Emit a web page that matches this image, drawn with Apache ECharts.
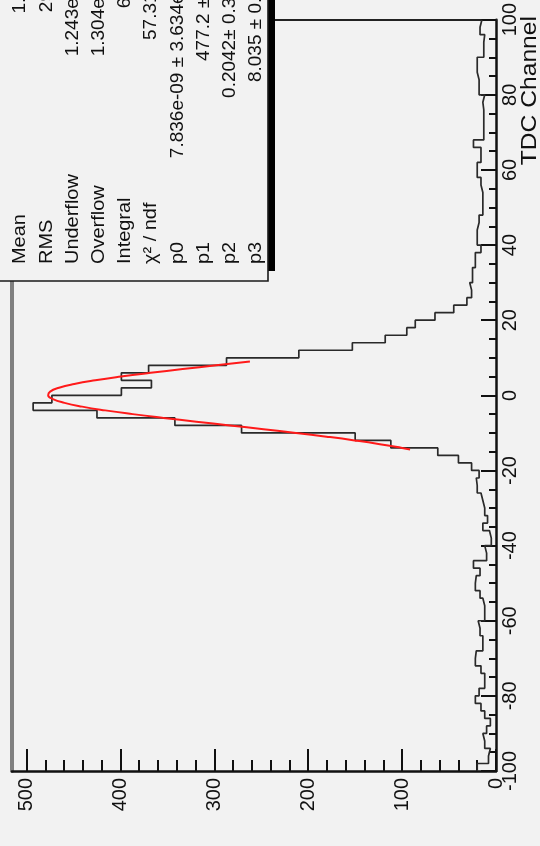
<!DOCTYPE html>
<html><head><meta charset="utf-8">
<script src="https://cdn.jsdelivr.net/npm/echarts@6/dist/echarts.min.js"></script>
<style>html,body{margin:0;padding:0;background:#f2f2f2;}#c{width:540px;height:846px;}</style>
</head><body><div id="c"></div>
<script>
// TDC channel bin lower edges (bin width 2)
const binLowEdges = [-100,-98,-96,-94,-92,-90,-88,-86,-84,-82,
  -80,-78,-76,-74,-72,-70,-68,-66,-64,-62,
  -60,-58,-56,-54,-52,-50,-48,-46,-44,-42,
  -40,-38,-36,-34,-32,-30,-28,-26,-24,-22,
  -20,-18,-16,-14,-12,-10,-8,-6,-4,-2,
  0,2,4,6,8,10,12,14,16,18,
  20,22,24,26,28,30,32,34,36,38,
  40,42,44,46,48,50,52,54,56,58,
  60,62,64,66,68,70,72,74,76,78,
  80,82,84,86,88,90,92,94,96,98];
const binWidth = 2;
// histogram contents (entries per bin)
const binCounts = [20,8,6,12,14,10,6,12,16,22,
  18,12,12,16,22,21,14,14,17,19,
  12,12,14,17,22,21,17,24,10,12,
  5,7,14,9,12,14,16,20,21,18,
  26,40,62,112,150,271,342,425,493,473,
  399,367,399,370,287,210,153,118,95,86,
  65,45,31,26,28,25,25,22,22,16,
  20,20,18,18,14,14,14,16,16,20,
  20,16,16,24,13,13,13,13,14,12,
  18,18,20,20,20,13,13,12,17,15];
// fitted curve
const fitChannels = [-14.4,-14,-13,-12,-11,-10,-9,-8,-7,-6,-5,-4,-3,-2,-1,0,1,2,3,4,5,6,7,8,9];
const fitValues = [91.5,100.0,123.7,150.6,180.5,213.1,247.6,283.4,319.2,354.2,386.9,416.2,440.8,459.6,471.9,477.0,474.9,465.4,449.2,426.8,399.4,367.9,333.7,298.1,262.1];
// axis ticks
const countTicks = [0,100,200,300,400,500];
const channelTicks = [-100,-80,-60,-40,-20,0,20,40,60,80,100];
// stats box
const statLabels = ['Entries','Mean','RMS','Underflow','Overflow','Integral','χ² / ndf','p0','p1','p2','p3'];
const statValues = ['6305','1.024','29.11','1.243e+04','1.304e+04','6305','57.31 / 8','7.836e-09 ± 3.634e-06','477.2 ± 6.9','0.2042± 0.3126','8.035 ± 0.163'];

const histPts = [];
for (let i = 0; i < binCounts.length; i++) {
  histPts.push([binCounts[i], binLowEdges[i]]);
  histPts.push([binCounts[i], binLowEdges[i] + binWidth]);
}
const fitPts = fitChannels.map((c, i) => [fitValues[i], c]);

const FONT = '"Liberation Sans", Arial, Helvetica, sans-serif';
const chart = echarts.init(document.getElementById('c'), null, {renderer: 'canvas'});

const rowX0 = -6, rowDx = 26.2, statFont = 19;
const graphics = [
  {type: 'rect', z: 100, shape: {x: -10, y: -30, width: 285, height: 301}, style: {fill: '#000'}},
  {type: 'rect', z: 101, shape: {x: -10, y: -10, width: 278, height: 291}, style: {fill: '#f2f2f2', stroke: '#1a1a1a', lineWidth: 1.6}}
];
statLabels.forEach((t, i) => {
  const cx = rowX0 + rowDx * i;
  graphics.push({type: 'text', z: 102, x: cx, y: 264, rotation: Math.PI / 2, scaleX: 1.05,
    style: {text: t, fontSize: statFont, fontFamily: FONT, fill: '#111', align: 'left', verticalAlign: 'middle'}});
  graphics.push({type: 'text', z: 102, x: cx, y: -34, rotation: Math.PI / 2, scaleX: 1.0,
    style: {text: statValues[i], fontSize: statFont, fontFamily: FONT, fill: '#111', align: 'right', verticalAlign: 'middle'}});
});
graphics.push({type: 'text', z: 102, x: 530, y: 16, rotation: Math.PI / 2, scaleX: 1.12,
  style: {text: 'TDC Channel', fontSize: 22, fontFamily: FONT, fill: '#111', align: 'right', verticalAlign: 'middle'}});

const lineCol = '#111';
chart.setOption({
  backgroundColor: '#f2f2f2',
  animation: false,
  grid: {left: 12, right: 44, top: 16, bottom: 75},
  xAxis: [
    {type: 'value', inverse: true, min: 0, max: 515.5, interval: 100, position: 'bottom',
      axisLine: {show: true, onZero: false, lineStyle: {color: lineCol, width: 2.5}},
      axisTick: {show: true, inside: true, length: 22, customValues: countTicks, lineStyle: {color: lineCol, width: 2}},
      minorTick: {show: true, splitNumber: 5, length: 11, lineStyle: {color: lineCol, width: 2}},
      axisLabel: {show: true, customValues: countTicks, rotate: 90, margin: 7, fontSize: 20, fontFamily: FONT, color: '#111'},
      splitLine: {show: false}, minorSplitLine: {show: false}},
    {type: 'value', inverse: true, min: 0, max: 515.5, position: 'top',
      axisLine: {show: true, onZero: false, lineStyle: {color: '#222', width: 2.2}},
      axisTick: {show: false}, axisLabel: {show: false}, splitLine: {show: false}}
  ],
  yAxis: [
    {type: 'value', min: -100, max: 100, interval: 20, position: 'right',
      axisLine: {show: true, onZero: false, lineStyle: {color: lineCol, width: 2.5}},
      axisTick: {show: true, inside: true, length: 15, customValues: channelTicks, lineStyle: {color: lineCol, width: 2}},
      minorTick: {show: true, splitNumber: 4, length: 7, lineStyle: {color: lineCol, width: 2}},
      axisLabel: {show: true, customValues: channelTicks, rotate: 90, margin: 4, fontSize: 20, fontFamily: FONT, color: '#111'},
      splitLine: {show: false}},
    {type: 'value', min: -100, max: 100, position: 'left',
      axisLine: {show: true, onZero: false, lineStyle: {color: '#808080', width: 4}},
      axisTick: {show: false}, axisLabel: {show: false}, splitLine: {show: false}}
  ],
  series: [
    {type: 'line', xAxisIndex: 0, yAxisIndex: 0, data: histPts, showSymbol: false, symbol: 'none',
      lineStyle: {color: '#2a2a2a', width: 1.7}, z: 3, silent: true, clip: true},
    {type: 'line', xAxisIndex: 0, yAxisIndex: 0, data: fitPts, showSymbol: false, symbol: 'none', smooth: true,
      lineStyle: {color: '#ff1a1a', width: 2}, z: 4, silent: true}
  ],
  graphic: {elements: graphics}
});
</script>
</body></html>
